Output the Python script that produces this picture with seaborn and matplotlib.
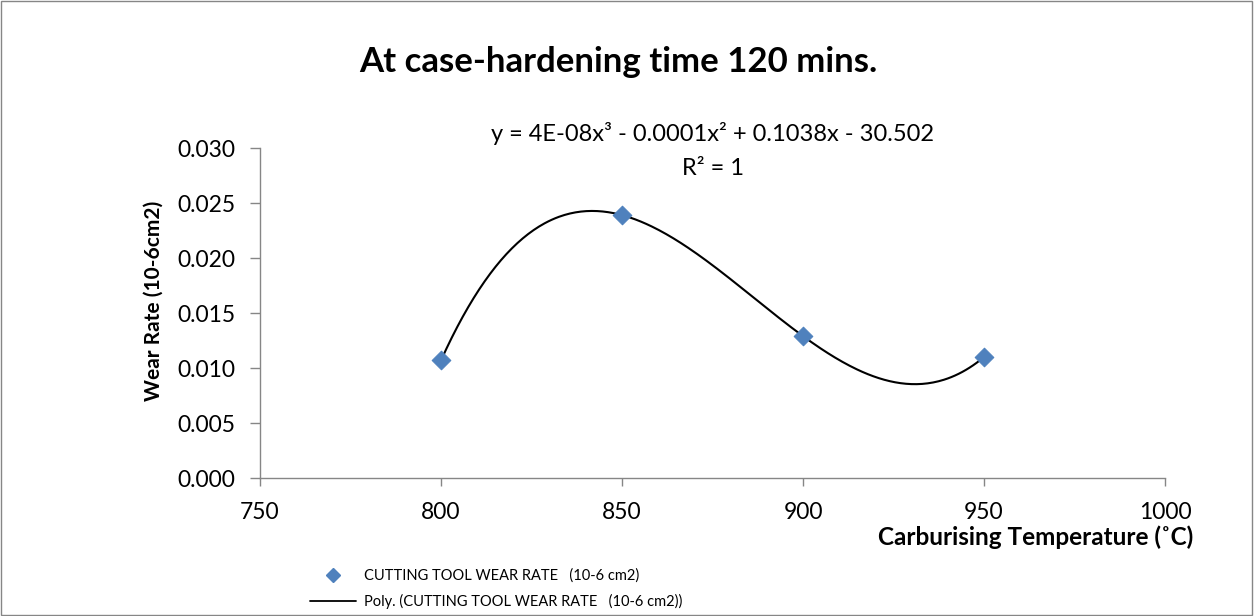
import matplotlib
matplotlib.use("Agg")
import matplotlib.pyplot as plt
from matplotlib.lines import Line2D
from matplotlib.patches import Rectangle
import numpy as np
import pandas as pd
import seaborn as sns

# data
temperature = [800, 850, 900, 950]
wear_rate = [0.0107, 0.0239, 0.0129, 0.0110]

x_ticks = [750, 800, 850, 900, 950, 1000]
y_ticks = [0.000, 0.005, 0.010, 0.015, 0.020, 0.025, 0.030]

series_name = "CUTTING TOOL WEAR RATE   (10-6 cm2)"
trend_name = "Poly. (CUTTING TOOL WEAR RATE   (10-6 cm2))"
equation = "y = 4E-08x\u00b3 - 0.0001x\u00b2 + 0.1038x - 30.502"
r_squared = "R\u00b2 = 1"

sns.set_theme(style="white", rc={"text.color": "black", "axes.labelcolor": "black",
                                 "xtick.color": "black", "ytick.color": "black"})
plt.rcParams["font.family"] = ["Lato", "DejaVu Sans"]

df = pd.DataFrame({"temp": temperature, "wear": wear_rate})

# cubic trendline fitted from the points, like the spreadsheet does
coef = np.polyfit(df["temp"], df["wear"], 3)
xs = np.linspace(min(temperature), max(temperature), 300)
trend = pd.DataFrame({"temp": xs, "wear": np.polyval(coef, xs)})

fig = plt.figure(figsize=(12.55, 6.16), dpi=100)
ax = fig.add_axes([0.2072, 0.224, 0.7211, 0.5357])

sns.lineplot(data=trend, x="temp", y="wear", ax=ax, color="black", linewidth=1.5)
sns.scatterplot(data=df, x="temp", y="wear", ax=ax, marker="D", s=90,
                color="#4F81BD", edgecolor="#4F81BD", zorder=3)

ax.set_xlim(750, 1000)
ax.set_ylim(0, 0.030)
ax.set_xticks(x_ticks)
ax.set_yticks(y_ticks)
ax.set_yticklabels([f"{v:.3f}" for v in y_ticks])
ax.set_xlabel("")
ax.set_ylabel("Wear Rate (10-6cm2)", fontsize=15, fontweight="bold")
ax.yaxis.set_label_coords(-0.106, 0.536)
ax.tick_params(axis="both", labelsize=16.5, direction="out", width=1,
               color="#868686", labelcolor="black", bottom=True, left=True)
ax.tick_params(axis="y", length=7, pad=11)
ax.tick_params(axis="x", length=5.5, pad=11.5)

for side in ["top", "right"]:
    ax.spines[side].set_visible(False)
for side in ["left", "bottom"]:
    ax.spines[side].set_color("#868686")
    ax.spines[side].set_linewidth(1)

fig.text(0.4924, 0.899, "At case-hardening time 120 mins.", ha="center", va="center",
         fontsize=25, fontweight="bold")
fig.text(0.568, 0.784, equation, ha="center", va="center", fontsize=17)
fig.text(0.568, 0.727, r_squared, ha="center", va="center", fontsize=17)

fig.text(0.8255, 0.128, "Carburising Temperature (\u02daC)", ha="center", va="center",
         fontsize=17.5, fontweight="bold")

handles = [
    Line2D([], [], linestyle="none", marker="D", markersize=7,
           color="#4F81BD", label=series_name),
    Line2D([], [], color="black", linewidth=1.3, label=trend_name),
]
fig.legend(handles=handles, loc="upper left", bbox_to_anchor=(0.242, 0.086),
           frameon=False, fontsize=10.5, handlelength=3.2, handletextpad=0.5,
           labelspacing=0.75, borderaxespad=0)

fig.patches.append(Rectangle((0.001, 0.001), 0.997, 0.997, transform=fig.transFigure,
                             fill=False, edgecolor="#868686", linewidth=1))

fig.savefig("out.png", dpi=100)
